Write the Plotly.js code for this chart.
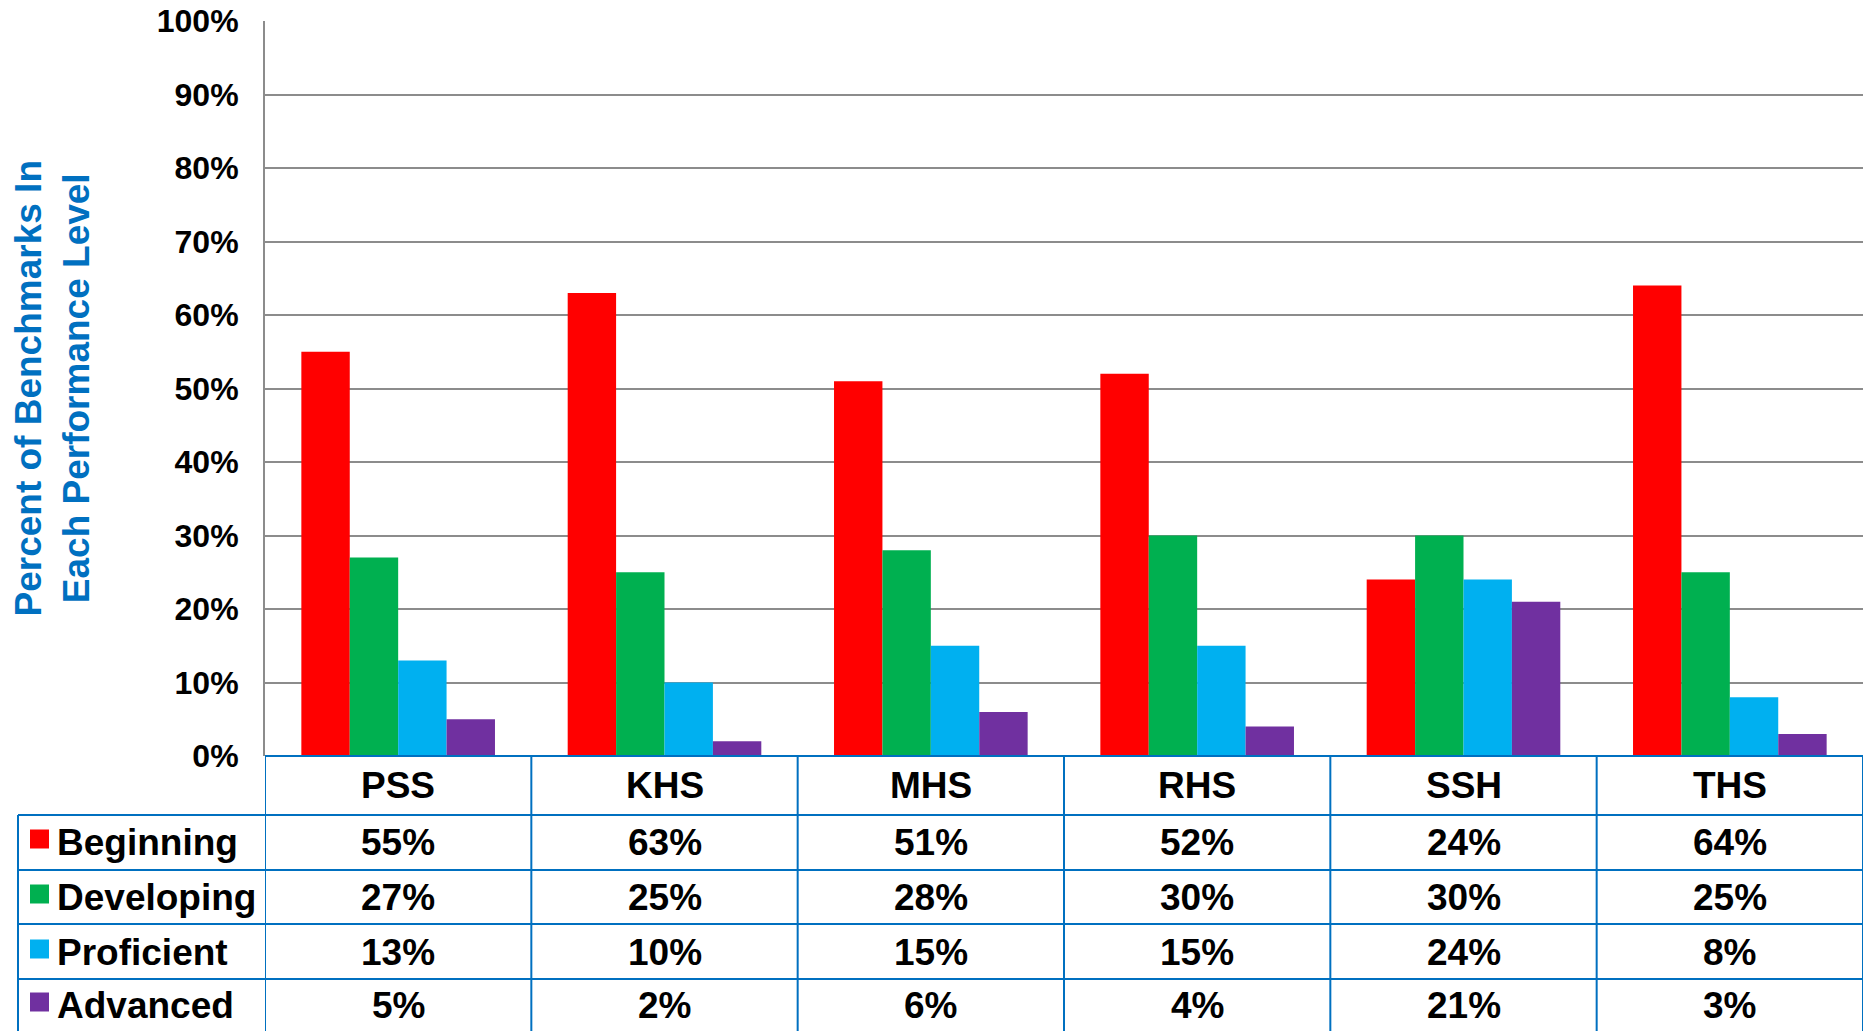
<!DOCTYPE html>
<html>
<head>
<meta charset="utf-8">
<script src="https://cdn.plot.ly/plotly-3.0.1.min.js"></script>
<style>html,body{margin:0;padding:0;background:#fff;}#chart{width:1867px;height:1031px;}</style>
</head>
<body>
<div id="chart"></div>
<script>
const categories = ["PSS", "KHS", "MHS", "RHS", "SSH", "THS"];
const seriesNames = ["Beginning", "Developing", "Proficient", "Advanced"];
const beginning = [55, 63, 51, 52, 24, 64];
const developing = [27, 25, 28, 30, 30, 25];
const proficient = [13, 10, 15, 15, 24, 8];
const advanced = [5, 2, 6, 4, 21, 3];
const yTickVals = [0, 10, 20, 30, 40, 50, 60, 70, 80, 90, 100];
const yTickText = ["0%", "10%", "20%", "30%", "40%", "50%", "60%", "70%", "80%", "90%", "100%"];
const yTitle = "Percent of Benchmarks In<br>Each Performance Level";

const seriesValues = [beginning, developing, proficient, advanced];
const colors = ["#FF0000", "#00B050", "#00B0F0", "#7030A0"];
const FONT = "Liberation Sans, Arial, sans-serif";
const BLUE = "#0070C0";

const W = 1867, H = 1031;
const mL = 265, mR = 4, mT = 21, mB = 275;
const plotW = W - mL - mR, plotH = H - mT - mB;
const px = p => (p - mL) / plotW;             // pixel x -> paper x
const py = p => (H - mB - p) / plotH;          // pixel y -> paper y

const traces = seriesNames.map((n, i) => ({
  type: "bar",
  name: n,
  x: categories.map((c, j) => j),
  y: seriesValues[i],
  marker: { color: colors[i], line: { width: 0 } },
  hoverinfo: "skip"
}));

// table geometry (pixels)
const headerBottom = 815;
const rowLines = [815, 870, 924, 979];
const rowCenters = [842, 897, 952, 1005];
const headerCenter = 785;
const leftEdge = 18;

const shapes = [];
const lineStyle = { color: BLUE, width: 2 };
shapes.push({ type: "line", xref: "paper", yref: "paper", x0: 0, x1: 1, y0: 0, y1: 0, line: lineStyle });
rowLines.forEach(p => shapes.push({ type: "line", xref: "paper", yref: "paper", x0: px(leftEdge), x1: 1, y0: py(p), y1: py(p), line: lineStyle }));
for (let j = 0; j <= categories.length; j++) {
  shapes.push({ type: "line", xref: "x", yref: "paper", x0: j - 0.5, x1: j - 0.5, y0: 0, y1: py(1035), line: lineStyle });
}
shapes.push({ type: "line", xref: "paper", yref: "paper", x0: px(leftEdge), x1: px(leftEdge), y0: py(headerBottom), y1: py(1035), line: lineStyle });
seriesNames.forEach((n, i) => {
  const c = rowCenters[i] - 3;
  shapes.push({ type: "rect", xref: "paper", yref: "paper", x0: px(30), x1: px(49), y0: py(c - 9.5), y1: py(c + 9.5), fillcolor: colors[i], line: { width: 0 } });
});

const annotations = [];
const tfont = { family: FONT, size: 37, color: "#000", weight: "bold" };
categories.forEach((c, j) => {
  annotations.push({ xref: "x", yref: "paper", x: j, y: py(headerCenter), text: c, showarrow: false, font: tfont, xanchor: "center", yanchor: "middle" });
  seriesValues.forEach((vals, i) => {
    annotations.push({ xref: "x", yref: "paper", x: j, y: py(rowCenters[i]), text: vals[j] + "%", showarrow: false, font: tfont, xanchor: "center", yanchor: "middle" });
  });
});
seriesNames.forEach((n, i) => {
  annotations.push({ xref: "paper", yref: "paper", x: px(55), y: py(rowCenters[i]), text: n, showarrow: false, font: tfont, xanchor: "left", yanchor: "middle" });
});
annotations.push({ xref: "paper", yref: "paper", x: px(52), y: 0.5, text: yTitle, textangle: -90, showarrow: false,
  font: { family: FONT, size: 37, color: BLUE, weight: "bold" }, xanchor: "center", yanchor: "middle" });

const layout = {
  width: W, height: H,
  margin: { l: mL, r: mR, t: mT, b: mB, pad: 0 },
  paper_bgcolor: "#fff", plot_bgcolor: "#fff",
  barmode: "group", bargap: 0.273, bargroupgap: 0,
  showlegend: false,
  xaxis: { type: "linear", range: [-0.5, 5.5], showticklabels: false, showgrid: false, zeroline: false, showline: false, ticks: "", fixedrange: true },
  yaxis: {
    range: [0, 100], tickvals: yTickVals, ticktext: yTickText,
    showgrid: true, gridcolor: "#8C8C8C", gridwidth: 2,
    zeroline: false, showline: true, linecolor: "#8C8C8C", linewidth: 2,
    ticks: "", ticklabelstandoff: 18,
    tickfont: { family: FONT, size: 32, color: "#000", weight: "bold" }
  },
  shapes: shapes,
  annotations: annotations
};

Plotly.newPlot("chart", traces, layout, { displayModeBar: false, staticPlot: true });
</script>
</body>
</html>
